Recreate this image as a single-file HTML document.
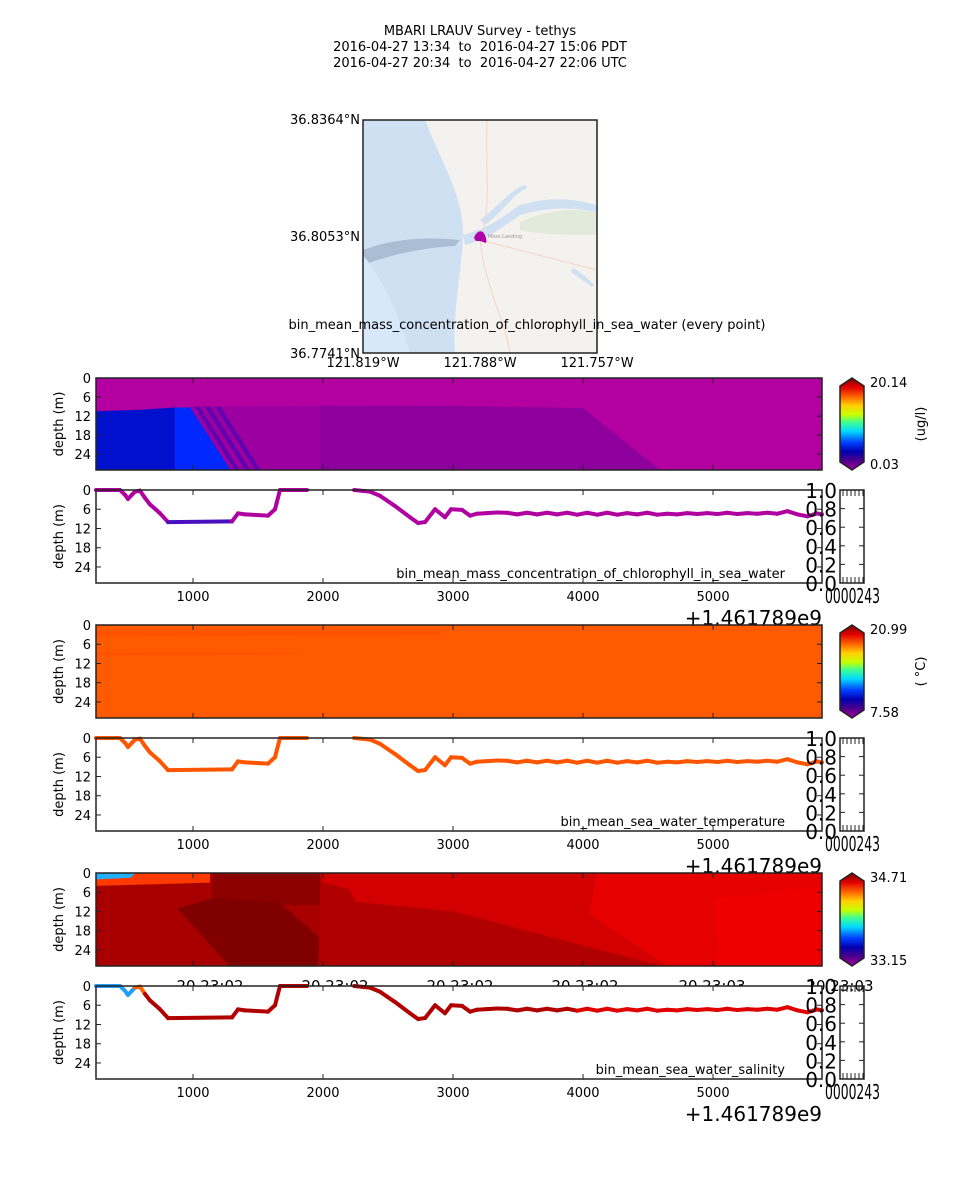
<!DOCTYPE html>
<html><head><meta charset="utf-8"><style>
html,body{margin:0;padding:0;background:#fff;}
svg{display:block;font-family:"DejaVu Sans","Liberation Sans",sans-serif;}
</style></head><body>
<svg id="fig" width="960" height="1200" viewBox="0 0 960 1200" xmlns="http://www.w3.org/2000/svg">
<defs>
<linearGradient id="cmap" x1="0" y1="1" x2="0" y2="0">
<stop offset="0" stop-color="#a000a0"/><stop offset="0.1" stop-color="#50008c"/><stop offset="0.2" stop-color="#0000b0"/><stop offset="0.3" stop-color="#0040ff"/><stop offset="0.42" stop-color="#00d8ff"/><stop offset="0.52" stop-color="#40ff90"/><stop offset="0.6" stop-color="#c8ff00"/><stop offset="0.7" stop-color="#ffd000"/><stop offset="0.8" stop-color="#ff6000"/><stop offset="0.9" stop-color="#e00000"/><stop offset="1" stop-color="#800000"/>
</linearGradient>
<clipPath id="mapclip"><rect x="363" y="120" width="234" height="233"/></clipPath>
</defs>
<g font-size="13" text-anchor="middle" fill="#000" style="white-space:pre">
<text x="480" y="35">MBARI LRAUV Survey - tethys</text>
<text x="480" y="51">2016-04-27 13:34&#160; to&#160; 2016-04-27 15:06 PDT</text>
<text x="480" y="67">2016-04-27 20:34&#160; to&#160; 2016-04-27 22:06 UTC</text>
</g>
<g>
<g clip-path="url(#mapclip)">
<rect x="363" y="120" width="234" height="233" fill="#cfe0f2"/>
<path d="M425,120 C445,170 465,200 463,240 C460,280 452,320 455,353 L597,353 L597,120 Z" fill="#f3f2ee"/>
<path d="M463,235 C490,228 505,215 520,205 C540,200 560,195 597,205 L597,212 C560,205 540,210 520,215 C505,225 490,238 465,245 Z" fill="#cfe0f2"/>
<path d="M480,220 C500,205 510,190 525,185 L527,188 C512,195 505,210 485,225 Z" fill="#cfe0f2"/>
<path d="M520,222 C545,210 575,208 597,212 L597,235 C570,235 540,235 520,230 Z" fill="#e2eadb"/>
<path d="M363,250 C390,240 420,236 460,240 L455,246 C420,248 390,255 363,265 Z" fill="#a9bdd3"/>
<path d="M363,255 L363,353 L410,353 C400,320 390,290 363,255 Z" fill="#d7e8fa"/>
<path d="M487,120 C485,170 492,210 480,240 C486,290 505,320 510,353" stroke="#f5d4c8" stroke-width="1" fill="none"/>
<path d="M480,240 L597,270" stroke="#f5d4c8" stroke-width="1" fill="none"/>
<path d="M573,268 C580,272 590,280 594,285 L592,287 C585,282 578,277 571,272 Z" fill="#cfe0f2"/>
<text x="488" y="238" font-size="5" fill="#999">Moss Landing</text>
<path d="M474,238 C476,232 480,230 483,232 C486,236 487,240 486,243 L480,241 L476,241 Z" fill="#b000a8"/>
</g>
<rect x="363" y="120" width="234" height="233" fill="none" stroke="#222" stroke-width="1.5"/>
<g font-size="13" fill="#000">
<text x="360" y="124" text-anchor="end">36.8364°N</text>
<text x="360" y="241" text-anchor="end">36.8053°N</text>
<text x="360" y="358" text-anchor="end">36.7741°N</text>
<text x="363" y="367" text-anchor="middle">121.819°W</text>
<text x="480" y="367" text-anchor="middle">121.788°W</text>
<text x="597" y="367" text-anchor="middle">121.757°W</text>
</g>
<text x="527" y="329" font-size="13" text-anchor="middle">bin_mean_mass_concentration_of_chlorophyll_in_sea_water (every point)</text>
</g>
<g id="panels"></g>
</svg>
<script>
// ---- data ----
var trackTimes = [254,438,477,500,530,554,592,631,669,740,808,1300,1346,1400,1577,1631,1669,1877,null,2239,2362,2438,2554,2669,2731,2785,2862,2938,2985,3069,3131,3185,3262,3339,3416,3493,3570,3647,3724,3801,3878,3955,4032,4109,4186,4263,4340,4417,4494,4571,4648,4725,4802,4879,4956,5033,5110,5187,5264,5341,5418,5495,5572,5649,5726,5800,5838];
var trackDepths = [0,0,1.5,2.8,1.5,0.5,0.2,2.5,4.5,7,10,9.8,7.3,7.6,8,6,0,0,null,0,0.5,1.8,5,8.5,10.3,10,6,8.5,6,6.2,8,7.4,7.2,7.0,7.1,7.6,7.1,7.6,7.1,7.6,7.1,7.7,7.1,7.7,7.1,7.7,7.2,7.6,7.1,7.7,7.4,7.6,7.2,7.5,7.2,7.5,7.1,7.5,7.2,7.4,7.1,7.4,6.6,7.6,8.2,7.3,7.6];
var xTicks = [1000,2000,3000,4000,5000];
var depthTicks = [0,6,12,18,24];
var fakeTicks = ["0.0","0.2","0.4","0.6","0.8","1.0"];
var chlRange = ["0.03","20.14"];
var tempRange = ["7.58","20.99"];
var salRange = ["33.15","34.71"];
var chlRegions = [
 {c:"#0010cc",p:[[254,10.5],[600,10],[860,9.3],[860,29],[254,29]]},
 {c:"#0028ff",p:[[860,9.3],[980,9.3],[1290,29],[860,29]]},
 {c:"#9c00a0",p:[[980,9.2],[1977,8.7],[1977,29],[1290,29]]},
 {c:"#6000b0",p:[[1010,9],[1050,9],[1360,29],[1320,29]]},
 {c:"#6000b0",p:[[1090,9],[1130,9],[1440,29],[1400,29]]},
 {c:"#6000b0",p:[[1170,9],[1210,9],[1520,29],[1480,29]]},
 {c:"#8e009e",p:[[1977,8.7],[3000,8.8],[4000,9.5],[4592,29],[1977,29]]}
];
var tempRegions = [
 {c:"#ff5200",p:[[254,2],[2900,2],[2900,3],[254,3.5]]},
 {c:"#ff5200",p:[[254,8.5],[1800,8.5],[1800,9],[254,9.5]]}
];
var salRegions = [
 {c:"#ff3a00",p:[[254,0],[1130,0],[1130,3],[700,3.5],[254,4]]},
 {c:"#20b0ff",p:[[254,0],[560,0],[520,1.5],[254,2]]},
 {c:"#8c0000",p:[[1150,0],[2000,0],[2150,7],[1950,10],[1150,10]]},
 {c:"#800000",p:[[880,11],[1150,8],[1660,9],[1970,20],[1960,29],[1280,29]]},
 {c:"#b00000",p:[[1977,0],[5838,0],[5838,29],[1977,29]]},
 {c:"#d20000",p:[[1977,0],[5838,0],[5838,29],[4600,29],[3000,12],[2250,9],[2200,5],[2000,3]]},
 {c:"#e60000",p:[[4100,0],[5838,0],[5838,29],[4650,29],[4050,13]]},
 {c:"#ee0000",p:[[5000,8],[5838,4],[5838,29],[5050,29]]}
];
// ---- scales ----
var X0=96, X1=822, T0=254, T1=5838, DMAX=29;
function X(t){return X0+(t-T0)/(T1-T0)*(X1-X0);}
function Yf(top,h){return function(d){return top+d/DMAX*h;};}
var NS="http://www.w3.org/2000/svg";
var root=document.getElementById('panels');
function mk(tag,attrs,parent){var e=document.createElementNS(NS,tag);for(var k in attrs)e.setAttribute(k,attrs[k]);(parent||root).appendChild(e);return e;}
function txt(x,y,s,size,anchor,parent){var t=mk('text',{x:x,y:y,'font-size':size,'text-anchor':anchor||'start'},parent);t.textContent=s;return t;}

function depthAxis(g,top,h){
 var Y=Yf(top,h);
 depthTicks.forEach(function(d){
  var t=txt(91,Y(d)+5,String(d),13,'end',g);
  
  
  mk('line',{x1:X0,x2:X0+5,y1:Y(d),y2:Y(d),stroke:'#222'},g);
  mk('line',{x1:X1-5,x2:X1,y1:Y(d),y2:Y(d),stroke:'#222'},g);
 });
 var yl=txt(0,0,'depth (m)',13,'middle',g);
 yl.setAttribute('transform','translate(63,'+(top+h/2)+') rotate(-90)');
 
 
 xTicks.forEach(function(t){
  mk('line',{x1:X(t),x2:X(t),y1:top,y2:top+5,stroke:'#222'},g);
  mk('line',{x1:X(t),x2:X(t),y1:top+h-5,y2:top+h,stroke:'#222'},g);
 });
}

function contourPanel(name,top,h,regions,base,range,unit){
 var g=mk('g',{});
 
 
 var Y=Yf(top,h);
 mk('rect',{x:X0,y:top,width:X1-X0,height:h,fill:base},g);
 regions.forEach(function(r){
  var pg=mk('polygon',{points:r.p.map(function(q){return X(q[0])+','+Y(q[1]);}).join(' '),fill:r.c},g);
  
  
 });
 mk('rect',{x:X0,y:top,width:X1-X0,height:h,fill:'none',stroke:'#222','stroke-width':1.5},g);
 depthAxis(g,top,h);
 var cb=mk('polygon',{points:'840,'+(top+8)+' 852,'+top+' 864,'+(top+8)+' 864,'+(top+h-8)+' 852,'+(top+h)+' 840,'+(top+h-8),fill:'url(#cmap)',stroke:'#222','stroke-width':1.5},g);
 
 
 var a=txt(870,top+9,range[1],13,'start',g);
 
 
 var b=txt(870,top+h-1,range[0],13,'start',g);
 
 
 if(unit){var u=txt(0,0,unit,13,'middle',g);u.setAttribute('transform','translate(925,'+(top+h/2)+') rotate(-90)');
  
  }
 return g;
}

function linePanel(name,top,h,colorFn,caption){
 var g=mk('g',{});
 
 
 var Y=Yf(top,h);
 mk('rect',{x:X0,y:top,width:X1-X0,height:h,fill:'#fff'},g);
 var seg=[];
 function flush(){ if(seg.length>1){
   for(var i=1;i<seg.length;i++){
    var l=mk('line',{x1:X(seg[i-1][0]),y1:Y(seg[i-1][1]),x2:X(seg[i][0]),y2:Y(seg[i][1]),stroke:colorFn(seg[i][0],seg[i][1]),'stroke-width':4,'stroke-linecap':'round'},g);
    
    
   }} seg=[]; }
 for(var i=0;i<trackTimes.length;i++){
  if(trackTimes[i]===null){flush();continue;}
  seg.push([trackTimes[i],trackDepths[i]]);
 }
 flush();
 mk('rect',{x:X0,y:top,width:X1-X0,height:h,fill:'none',stroke:'#222','stroke-width':1.5},g);
 depthAxis(g,top,h);
 xTicks.forEach(function(t){
  var tl=txt(X(t),top+h+18,String(t),13,'middle',g);
  
  
 });
 var off=txt(822,top+h+42,'+1.461789e9',20,'end',g);
 
 
 var cap=txt(785,top+h-5,caption,13,'end',g);
 
 
 fakeTicks.forEach(function(s,i){
  var yy=top+h-i/5*h;
  var f=txt(837,yy+8,s,20,'end',g);
  
  
  mk('line',{x1:840,x2:845,y1:yy,y2:yy,stroke:'#222'},g);
  mk('line',{x1:859,x2:864,y1:yy,y2:yy,stroke:'#222'},g);
 });
 for(var k=0;k<6;k++){var xx=843+k*4;
  mk('line',{x1:xx,x2:xx,y1:top,y2:top+6,stroke:'#222'},g);
  mk('line',{x1:xx,x2:xx,y1:top+h-6,y2:top+h,stroke:'#222'},g);}
 var box=mk('rect',{x:840,y:top,width:24,height:h,fill:'none',stroke:'#222','stroke-width':1.5},g);
 
 
 var gl=txt(825,top+h+20,'0000243',20,'start',g);
 gl.setAttribute('textLength','55');
 gl.setAttribute('lengthAdjust','spacingAndGlyphs');
 
 
 return g;
}

contourPanel('chlorophyll-section',378,92,chlRegions,'#b400a0',chlRange,'(ug/l)');
linePanel('chlorophyll-track',490,93,function(t,d){return (t>808&&t<=1300)?'#4a10c0':'#b000a0';},'bin_mean_mass_concentration_of_chlorophyll_in_sea_water');
contourPanel('temperature-section',625,93,tempRegions,'#ff5a00',tempRange,'( °C)');
linePanel('temperature-track',738,93,function(){return '#ff5500';},'bin_mean_sea_water_temperature');
contourPanel('salinity-section',873,93,salRegions,'#a80000',salRange,null);
// clipped date labels behind last panel
var dl=[210,335,460,585,712,840];
dl.forEach(function(x,i){
 var t=txt(x,991,(i==4||i==5)?'20 23:03':'20 23:02',15,'middle');
 
 
});
linePanel('salinity-track',986,93,function(t){return t<560?'#20a0ff':(t<640?'#ff6000':(t<4000?'#b00000':'#e00000'));},'bin_mean_sea_water_salinity');
</script>
</body></html>
